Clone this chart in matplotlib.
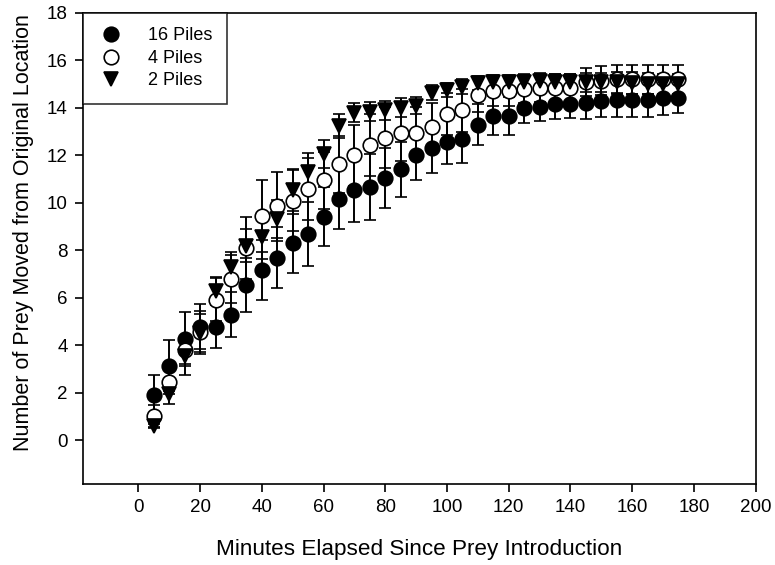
import matplotlib.pyplot as plt
import numpy as np

plt.rcParams['font.family'] = ['Liberation Sans', 'DejaVu Sans']

minutes = np.arange(5, 180, 5)

piles16 = [1.9, 3.15, 4.28, 4.79, 4.79, 5.29, 6.55, 7.18, 7.7, 8.3, 8.68, 9.42,
           10.18, 10.56, 10.68, 11.05, 11.42, 12.02, 12.3, 12.58, 12.7, 13.3,
           13.68, 13.68, 14.0, 14.05, 14.15, 14.18, 14.22, 14.3, 14.33, 14.33,
           14.35, 14.42, 14.42]
err16 = [0.85, 1.07, 1.13, 0.95, 0.92, 0.95, 1.13, 1.25, 1.3, 1.25, 1.35, 1.25,
         1.3, 1.38, 1.4, 1.25, 1.16, 1.05, 1.06, 0.96, 1.0, 0.86, 0.81, 0.8,
         0.65, 0.62, 0.62, 0.62, 0.68, 0.68, 0.72, 0.72, 0.72, 0.7, 0.64]

piles4 = [1.02, 2.45, 3.8, 4.55, 5.93, 6.8, 8.1, 9.45, 9.85, 10.1, 10.6, 10.95,
          11.62, 12.0, 12.45, 12.75, 12.95, 12.95, 13.2, 13.75, 13.9, 14.55,
          14.7, 14.7, 14.8, 14.85, 14.85, 14.85, 15.1, 15.15, 15.2, 15.2,
          15.2, 15.2, 15.2]
err4 = [0.45, 0.5, 0.6, 0.9, 0.9, 1.0, 1.3, 1.5, 1.45, 1.3, 1.3, 1.2,
        1.2, 1.3, 1.3, 1.3, 1.2, 1.1, 1.0, 0.9, 0.9, 0.7, 0.6, 0.6,
        0.6, 0.6, 0.6, 0.6, 0.6, 0.6, 0.6, 0.6, 0.6, 0.6, 0.6]

piles2 = [0.6, 1.96, 3.53, 4.5, 6.28, 7.28, 8.2, 8.55, 9.33, 10.54, 11.3, 12.05,
          13.25, 13.8, 13.85, 13.9, 14.0, 14.1, 14.65, 14.75, 14.9, 15.05,
          15.1, 15.1, 15.1, 15.12, 15.1, 15.1, 15.08, 15.08, 15.08, 15.05,
          15.02, 15.0, 15.0]
err2 = [0.1, 0.43, 0.76, 0.8, 0.6, 0.65, 0.7, 0.9, 0.8, 0.9, 0.8, 0.6,
        0.5, 0.4, 0.4, 0.4, 0.4, 0.35, 0.3, 0.3, 0.3, 0.3, 0.3, 0.3,
        0.35, 0.35, 0.35, 0.35, 0.4, 0.4, 0.45, 0.45, 0.45, 0.45, 0.45]

fig = plt.figure(figsize=(7.75, 5.65), dpi=100)
ax = fig.add_axes([0.107, 0.143, 0.868, 0.834])

kw = dict(ecolor='k', elinewidth=1.4, capsize=4.5, capthick=1.4, ls='none',
          markersize=10.5, markeredgecolor='k', markeredgewidth=1.2)
ax.errorbar(minutes, piles16, yerr=err16, fmt='o', mfc='k', label='16 Piles', **kw)
ax.errorbar(minutes, piles4, yerr=err4, fmt='o', mfc='white', label='4 Piles', **kw)
ax.errorbar(minutes, piles2, yerr=err2, fmt='v', mfc='k', label='2 Piles', **kw)

ax.set_xlim(-18, 200)
ax.set_ylim(-1.85, 18)
ax.set_xticks(np.arange(0, 201, 20))
ax.set_yticks(np.arange(0, 19, 2))
ax.tick_params(direction='out', length=6, width=1.2, labelsize=13.5, colors='k', pad=5)
for s in ax.spines.values():
    s.set_linewidth(1.2)

ax.set_xlabel('Minutes Elapsed Since Prey Introduction', fontsize=16.2, labelpad=16)
ax.set_ylabel('Number of Prey Moved from Original Location', fontsize=15.5, labelpad=9)
ax.yaxis.label.set_y(0.534)

handles, labels = ax.get_legend_handles_labels()
handles = [h[0] for h in handles]
leg = ax.legend(handles, labels, loc='upper left', borderaxespad=0, fancybox=False,
                edgecolor='k', fontsize=13, handletextpad=1.3, borderpad=0.8,
                labelspacing=0.3, handlelength=1.5)
leg.get_frame().set_linewidth(1.2)

plt.savefig('out.png')
